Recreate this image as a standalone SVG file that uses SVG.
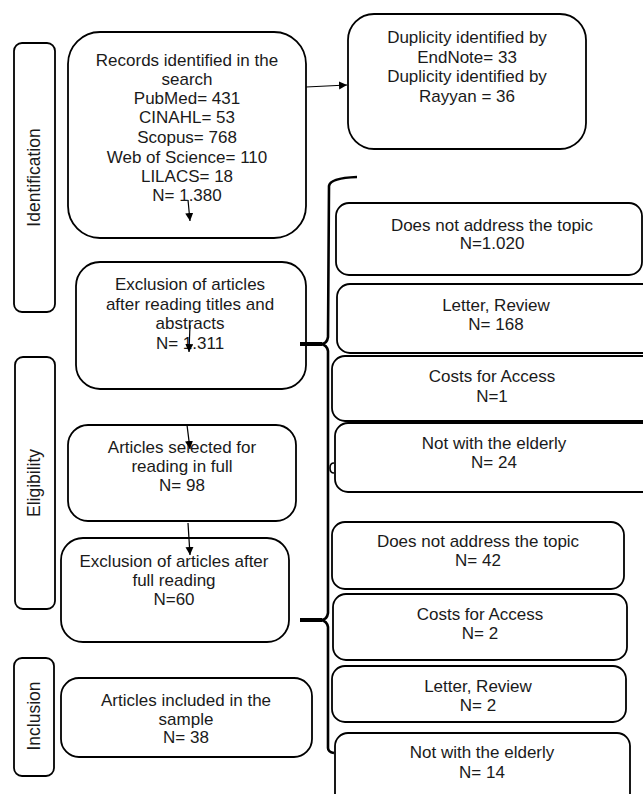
<svg xmlns="http://www.w3.org/2000/svg" width="643" height="794" viewBox="0 0 643 794">
<style>
.b{fill:#fff;stroke:#000;stroke-width:1.8}
.t{font-family:"Liberation Sans",Arial,sans-serif;font-size:17px;fill:#1a1a1a;text-anchor:middle}
.l{font-family:"Liberation Sans",Arial,sans-serif;font-size:17.5px;fill:#1a1a1a;text-anchor:middle}
.c{fill:none;stroke:#000;stroke-width:1.2}
.br{fill:none;stroke:#000;stroke-width:2.6}
.st{fill:none;stroke:#000;stroke-width:4}
</style>
<defs>
<marker id="ah" markerUnits="userSpaceOnUse" markerWidth="9" markerHeight="9" refX="8" refY="4" orient="auto">
<path d="M0,0 L8,4 L0,8 z" fill="#000"/>
</marker>
</defs>
<rect width="643" height="794" fill="#fff"/>

<g id="stage-identification">
<rect class="b" x="14" y="43" width="41" height="269" rx="8"/>
<text class="l" transform="translate(40,177.5) rotate(-90)">Identification</text>
</g>
<g id="stage-eligibility">
<rect class="b" x="15" y="357" width="40" height="252" rx="8"/>
<text class="l" transform="translate(40,483) rotate(-90)">Eligibility</text>
</g>
<g id="stage-inclusion">
<rect class="b" x="14" y="658" width="40" height="118" rx="8"/>
<text class="l" transform="translate(39.5,716) rotate(-90)">Inclusion</text>
</g>

<g id="records">
<rect class="b" x="68" y="32" width="238" height="206" rx="32"/>
<text class="t" x="187" y="66">Records identified in the</text>
<text class="t" x="187" y="85">search</text>
<text class="t" x="187" y="104">PubMed= 431</text>
<text class="t" x="187" y="123">CINAHL= 53</text>
<text class="t" x="187" y="143">Scopus= 768</text>
<text class="t" x="187" y="163">Web of Science= 110</text>
<text class="t" x="187" y="182">LILACS= 18</text>
<text class="t" x="187" y="201">N= 1.380</text>
</g>

<g id="duplicity">
<rect class="b" x="348" y="14" width="238" height="135" rx="26"/>
<text class="t" x="467" y="43">Duplicity identified by</text>
<text class="t" x="467" y="63">EndNote= 33</text>
<text class="t" x="467" y="82">Duplicity identified by</text>
<text class="t" x="467" y="102">Rayyan = 36</text>
</g>

<g id="exclusion-titles">
<rect class="b" x="76" y="262" width="230" height="127" rx="24"/>
<text class="t" x="190" y="290">Exclusion of articles</text>
<text class="t" x="190" y="310">after reading titles and</text>
<text class="t" x="190" y="329">abstracts</text>
<text class="t" x="190" y="349">N= 1.311</text>
</g>

<g id="selected-full">
<rect class="b" x="68" y="425" width="228" height="96" rx="20"/>
<text class="t" x="182" y="453">Articles selected for</text>
<text class="t" x="182" y="472">reading in full</text>
<text class="t" x="182" y="491">N= 98</text>
</g>

<g id="exclusion-full">
<rect class="b" x="61" y="538" width="228" height="104" rx="22"/>
<text class="t" x="174" y="567">Exclusion of articles after</text>
<text class="t" x="174" y="586">full reading</text>
<text class="t" x="174" y="605">N=60</text>
</g>

<g id="included">
<rect class="b" x="61" y="678" width="251" height="79" rx="18"/>
<text class="t" x="186" y="706">Articles included in the</text>
<text class="t" x="186" y="725">sample</text>
<text class="t" x="186" y="743">N= 38</text>
</g>

<g id="r1-topic">
<rect class="b" x="336" y="203" width="306" height="72" rx="13"/>
<text class="t" x="492" y="231">Does not address the topic</text>
<text class="t" x="492" y="249">N=1.020</text>
</g>
<g id="r1-letter">
<rect class="b" x="337" y="284" width="330" height="69" rx="13"/>
<text class="t" x="496" y="311">Letter, Review</text>
<text class="t" x="496" y="330">N= 168</text>
</g>
<g id="r1-costs">
<rect class="b" x="332" y="356" width="335" height="65" rx="13"/>
<text class="t" x="492" y="382">Costs for Access</text>
<text class="t" x="492" y="402">N=1</text>
</g>
<g id="r1-elderly">
<rect class="b" x="335" y="423" width="332" height="69" rx="13"/>
<text class="t" x="494" y="449">Not with the elderly</text>
<text class="t" x="494" y="468">N= 24</text>
</g>

<g id="r2-topic">
<rect class="b" x="332" y="522" width="292" height="67" rx="13"/>
<text class="t" x="478" y="547">Does not address the topic</text>
<text class="t" x="478" y="566">N= 42</text>
</g>
<g id="r2-costs">
<rect class="b" x="333" y="594" width="294" height="66" rx="13"/>
<text class="t" x="480" y="620">Costs for Access</text>
<text class="t" x="480" y="639">N= 2</text>
</g>
<g id="r2-letter">
<rect class="b" x="332" y="666" width="294" height="56" rx="13"/>
<text class="t" x="478" y="692">Letter, Review</text>
<text class="t" x="478" y="711">N= 2</text>
</g>
<g id="r2-elderly">
<rect class="b" x="335" y="733" width="295" height="75" rx="13"/>
<text class="t" x="482" y="758">Not with the elderly</text>
<text class="t" x="482" y="778">N= 14</text>
</g>

<g id="connectors">
<line class="c" x1="306" y1="87" x2="347" y2="85" marker-end="url(#ah)"/>
<line class="c" x1="188" y1="200" x2="190" y2="221" marker-end="url(#ah)"/>
<line class="c" x1="190" y1="325" x2="189" y2="352" marker-end="url(#ah)"/>
<line class="c" x1="187" y1="425" x2="190" y2="449" marker-end="url(#ah)"/>
<line class="c" x1="188" y1="523" x2="190" y2="555" marker-end="url(#ah)"/>
<path class="br" d="M357,177 Q330,178 329,186 L328,337 Q327,344 321,344 Q327,345 328,351 L328,613 Q327,620 321,620 Q327,621 328,627 L328,748 Q328,752 334,753"/>
<path fill="none" stroke="#000" stroke-width="1.6" d="M334,463 Q330,463 330,468 Q330,473 334,473"/>
<line class="st" x1="300" y1="344" x2="322" y2="344"/>
<line class="st" x1="300" y1="620" x2="322" y2="620"/>
</g>
</svg>
